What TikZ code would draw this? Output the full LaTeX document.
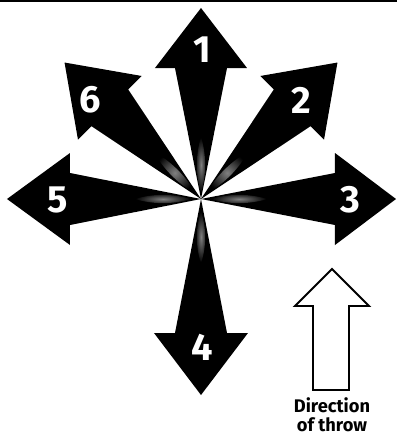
\documentclass[tikz,border=0pt]{standalone}
\usepackage{fontspec}
\newfontfamily\digitfont{Fira Sans}
\tikzset{
  throwarrow/.style={fill=black},
  glow/.style={inner color=black!50, outer color=black},
  digit/.style={text=white, font=\digitfont\bfseries\fontsize{27}{29}\selectfont, inner sep=0pt},
  hollow/.style={draw=black, fill=white, line width=1.4pt, line join=miter},
  caption/.style={font=\digitfont\bfseries\fontsize{13}{13.5}\selectfont, align=center, inner sep=0pt}
}

\begin{document}
\begin{tikzpicture}[x=0.025cm,y=0.025cm]
\useasboundingbox (-201,-236) rectangle (196,199);
% top edge
\draw[line width=1.2pt] (-201,198) -- (196,198);
% centre of the fan
\coordinate (C) at (0,0);
% six black arrows
\fill[throwarrow,rotate=90]  (C) -- (131,26) -- (131,46) -- (191,0) -- (131,-46) -- (131,-26) -- cycle;
\fill[throwarrow,rotate=45]  (C) -- (129,26) -- (129,45) -- (193,0) -- (129,-45) -- (129,-26) -- cycle;
\fill[throwarrow,rotate=0]   (C) -- (134,26) -- (134,46) -- (195,0) -- (134,-46) -- (134,-26) -- cycle;
\fill[throwarrow,rotate=270] (C) -- (134,26) -- (134,47) -- (196,0) -- (134,-47) -- (134,-26) -- cycle;
\fill[throwarrow,rotate=180] (C) -- (131,26) -- (131,46) -- (194,0) -- (131,-46) -- (131,-26) -- cycle;
\fill[throwarrow,rotate=135] (C) -- (129,26) -- (129,45) -- (193,0) -- (129,-45) -- (129,-26) -- cycle;
% grey glow along each shaft
\shade[glow,rotate=90]  (6,0) .. controls (26,6) and (46,5) .. (62,0) .. controls (46,-5) and (26,-6) .. (6,0);
\shade[glow,rotate=45]  (8,0) .. controls (28,6) and (50,5) .. (66,0) .. controls (50,-5) and (28,-6) .. (8,0);
\shade[glow,rotate=0]   (10,0) .. controls (30,6) and (50,5) .. (66,0) .. controls (50,-5) and (30,-6) .. (10,0);
\shade[glow,rotate=270] (12,0) .. controls (30,6) and (50,5) .. (64,0) .. controls (50,-5) and (30,-6) .. (12,0);
\shade[glow,rotate=180] (10,0) .. controls (30,6) and (50,5) .. (66,0) .. controls (50,-5) and (30,-6) .. (10,0);
\shade[glow,rotate=135] (8,0) .. controls (28,6) and (50,5) .. (66,0) .. controls (50,-5) and (28,-6) .. (8,0);
% numbers
\node[digit] (n1) at (1,149)    {1};
\node[digit] (n2) at (100,99)   {2};
\node[digit] (n3) at (149,-1)   {3};
\node[digit] (n4) at (1,-148)   {4};
\node[digit] (n5) at (-143,-1)  {5};
\node[digit] (n6) at (-111,99)  {6};
% direction of throw
\draw[hollow] (131,-70) -- (168,-107) -- (148,-107) -- (148,-191) -- (112,-191)
  -- (112,-107) -- (94,-107) -- cycle;
\node[caption] (throw) at (131,-216) {Direction\\of throw};
\end{tikzpicture}
\end{document}
